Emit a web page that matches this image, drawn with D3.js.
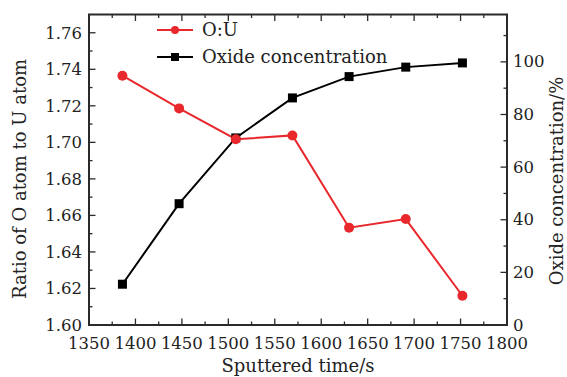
<!DOCTYPE html>
<html>
<head>
<meta charset="utf-8">
<script src="https://cdn.jsdelivr.net/npm/d3@7"></script>
<style>
  html, body { margin: 0; padding: 0; background: #fff; }
</style>
</head>
<body>
<svg id="chart" width="567" height="377"></svg>
<script>
// Sputtering time (s) and measured values
const times = [1386, 1447, 1508, 1569, 1630, 1691, 1752];
const ratioOU = [1.7365, 1.7186, 1.7017, 1.7038, 1.6533, 1.6580, 1.6160];
const oxideConc = [15.5, 46.1, 71.1, 86.3, 94.4, 98.0, 99.6];

const xTicks = [1350, 1400, 1450, 1500, 1550, 1600, 1650, 1700, 1750, 1800];
const yLeftTicks = [1.60, 1.62, 1.64, 1.66, 1.68, 1.70, 1.72, 1.74, 1.76];
const yRightTicks = [0, 20, 40, 60, 80, 100];

const seriesNames = ["O:U", "Oxide concentration"];
const colors = { ratio: "#e8282d", oxide: "#000000", axis: "#2a2a2a", text: "#222" };

const FONT = "'DejaVu Serif', 'Liberation Serif', serif";
const tickSize = 16.5;
const titleSize = 18;

const svg = d3.select("#chart")
  .attr("font-family", FONT)
  .style("font-family", FONT);

const m = { left: 89, right: 507, top: 14.5, bottom: 325 };

const x = d3.scaleLinear().domain([1350, 1800]).range([m.left, m.right]);
const yL = d3.scaleLinear().domain([1.60, 1.77]).range([m.bottom, m.top]);
const yR = d3.scaleLinear().domain([0, 118]).range([m.bottom, m.top]);

const minorRange = (a, b, s) => d3.range(a, b + 1e-9, s);

// inward-pointing ticks along a frame edge
function drawTicks(values, len, orient, scale, pos) {
  svg.append("g").selectAll("line").data(values).join("line")
    .each(function (v) {
      const p = scale(v);
      const sel = d3.select(this);
      if (orient === "bottom") sel.attr("x1", p).attr("x2", p).attr("y1", pos).attr("y2", pos - len);
      if (orient === "top") sel.attr("x1", p).attr("x2", p).attr("y1", pos).attr("y2", pos + len);
      if (orient === "left") sel.attr("y1", p).attr("y2", p).attr("x1", pos).attr("x2", pos + len);
      if (orient === "right") sel.attr("y1", p).attr("y2", p).attr("x1", pos).attr("x2", pos - len);
    })
    .attr("stroke", colors.axis).attr("stroke-width", 1.3);
}

const xMinor = minorRange(1375, 1775, 50);
const yLMinor = minorRange(1.61, 1.77, 0.02).filter(v => v < 1.768);
const yRMinor = minorRange(10, 110, 20);

drawTicks(xTicks, 6.5, "bottom", x, m.bottom);
drawTicks(xMinor, 3.5, "bottom", x, m.bottom);
drawTicks(xTicks, 6.5, "top", x, m.top);
drawTicks(xMinor, 3.5, "top", x, m.top);
drawTicks(yLeftTicks, 6.5, "left", yL, m.left);
drawTicks(yLMinor, 3.5, "left", yL, m.left);
drawTicks(yRightTicks, 6.5, "right", yR, m.right);
drawTicks(yRMinor, 3.5, "right", yR, m.right);

// frame
svg.append("rect").attr("x", m.left).attr("y", m.top)
  .attr("width", m.right - m.left).attr("height", m.bottom - m.top)
  .attr("fill", "none").attr("stroke", colors.axis).attr("stroke-width", 2);

function label(sel, size) {
  return sel.attr("font-family", FONT).style("font-size", size + "px").attr("fill", colors.text);
}

// tick labels
label(svg.append("g").selectAll("text").data(xTicks).join("text"), tickSize)
  .attr("x", d => x(d)).attr("y", m.bottom + 24)
  .attr("text-anchor", "middle")
  .text(d => d);
label(svg.append("g").selectAll("text").data(yLeftTicks).join("text"), tickSize)
  .attr("x", m.left - 7).attr("y", d => yL(d) + 6)
  .attr("text-anchor", "end")
  .text(d => d3.format(".2f")(d));
label(svg.append("g").selectAll("text").data(yRightTicks).join("text"), tickSize)
  .attr("x", m.right + 6).attr("y", d => yR(d) + 5.5)
  .attr("text-anchor", "start")
  .text(d => d);

// axis titles
label(svg.append("text"), titleSize).attr("x", (m.left + m.right) / 2).attr("y", 372)
  .attr("text-anchor", "middle")
  .text("Sputtered time/s");
label(svg.append("text"), titleSize).attr("transform", `translate(26,179) rotate(-90)`)
  .attr("text-anchor", "middle")
  .text("Ratio of O atom to U atom");
label(svg.append("text"), titleSize).attr("transform", `translate(563,181) rotate(-90)`)
  .attr("text-anchor", "middle")
  .text("Oxide concentration/%");

// series lines and markers
const lineRatio = d3.line().x((d, i) => x(times[i])).y(d => yL(d));
const lineOxide = d3.line().x((d, i) => x(times[i])).y(d => yR(d));

svg.append("path").datum(oxideConc).attr("d", lineOxide)
  .attr("fill", "none").attr("stroke", colors.oxide).attr("stroke-width", 2);
svg.append("path").datum(ratioOU).attr("d", lineRatio)
  .attr("fill", "none").attr("stroke", colors.ratio).attr("stroke-width", 2);

svg.append("g").selectAll("rect").data(oxideConc).join("rect")
  .attr("x", (d, i) => x(times[i]) - 4.5).attr("y", d => yR(d) - 4.5)
  .attr("width", 9).attr("height", 9).attr("fill", colors.oxide);
svg.append("g").selectAll("circle").data(ratioOU).join("circle")
  .attr("cx", (d, i) => x(times[i])).attr("cy", d => yL(d)).attr("r", 5)
  .attr("fill", colors.ratio);

// legend
const legend = svg.append("g");
[[colors.ratio, "circle", 30], [colors.oxide, "rect", 57]].forEach(([c, shape, ly], i) => {
  legend.append("line").attr("x1", 157).attr("x2", 193).attr("y1", ly).attr("y2", ly)
    .attr("stroke", c).attr("stroke-width", 2);
  if (shape === "circle") {
    legend.append("circle").attr("cx", 175).attr("cy", ly).attr("r", 4).attr("fill", c);
  } else {
    legend.append("rect").attr("x", 171).attr("y", ly - 4).attr("width", 8).attr("height", 8).attr("fill", c);
  }
  label(legend.append("text"), titleSize).attr("x", 202).attr("y", ly + 6.3)
    .text(seriesNames[i]);
});
</script>
</body>
</html>
